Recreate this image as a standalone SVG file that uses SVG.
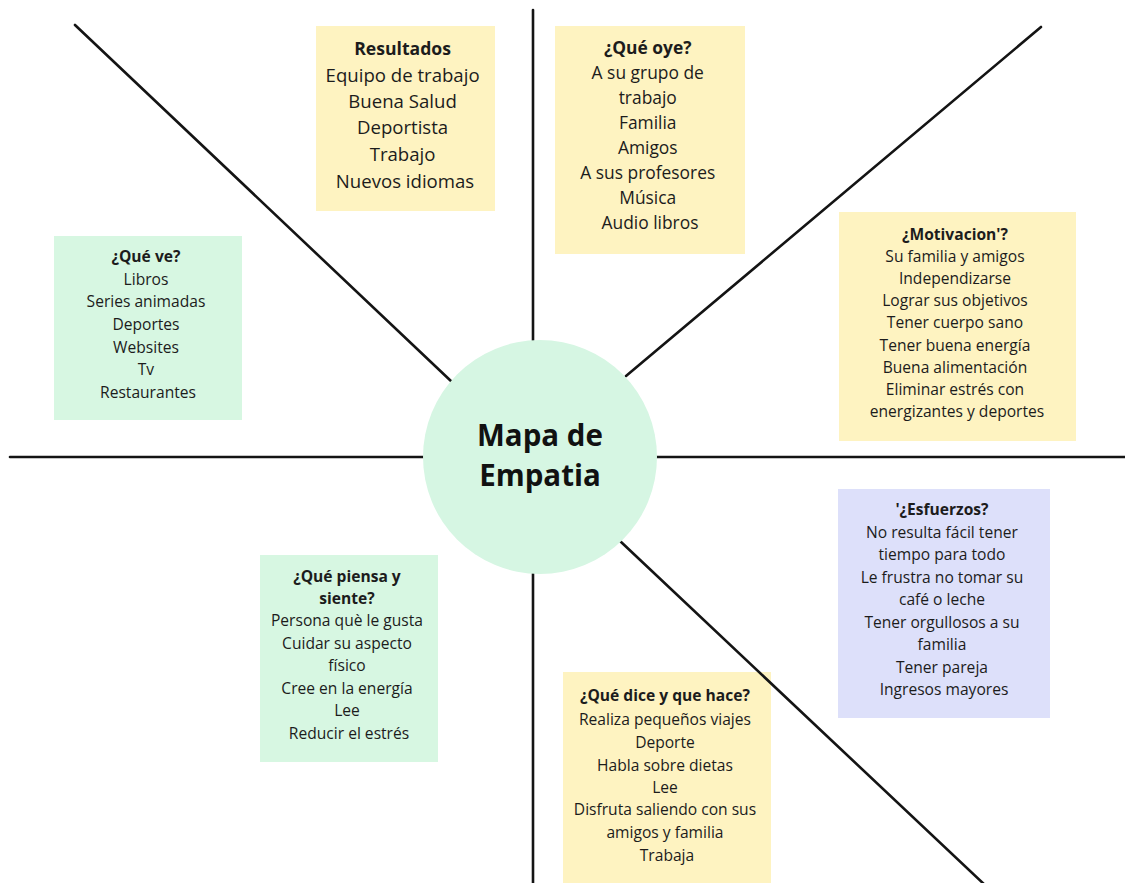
<svg xmlns="http://www.w3.org/2000/svg" width="1125" height="883" viewBox="0 0 1125 883">
  <style>
    .bg { fill: #ffffff; }
    .yellow { fill: #fef3c1; }
    .green { fill: #d7f7e2; }
    .lilac { fill: #dde0fa; }
    .hub { fill: #d6f6e3; }
    .axis { stroke: #141414; stroke-width: 2.6; stroke-linecap: round; fill: none; }
    text { font-family: "Open Sans", "Liberation Sans", sans-serif; fill: #1c1c1c; text-anchor: middle; }
    .t { font-weight: 700; }
    .big { font-size: 18.6px; }
    .mid { font-size: 17.4px; }
    .sm { font-size: 15.6px; }
    .hubtxt { font-size: 29.5px; font-weight: 700; fill: #111111; }
  </style>

  <rect class="bg" x="0" y="0" width="1125" height="883"/>

  <!-- Resultados -->
  <g id="resultados">
    <rect class="yellow" x="316" y="26" width="179" height="185"/>
    <text class="big" x="405">
      <tspan class="t" x="405" y="55" font-size="17.6">Resultados</tspan>
      <tspan x="405" y="82">Equipo de trabajo</tspan>
      <tspan x="405" y="108">Buena Salud</tspan>
      <tspan x="405" y="134">Deportista</tspan>
      <tspan x="405" y="161">Trabajo</tspan>
      <tspan x="405" y="188">Nuevos idiomas</tspan>
    </text>
  </g>

  <!-- ¿Qué oye? -->
  <g id="que-oye">
    <rect class="yellow" x="555" y="26" width="190" height="228"/>
    <text class="mid" x="650">
      <tspan class="t" x="650" y="54">¿Qué oye?</tspan>
      <tspan x="650" y="79">A su grupo de</tspan>
      <tspan x="650" y="104">trabajo</tspan>
      <tspan x="650" y="129">Familia</tspan>
      <tspan x="650" y="154">Amigos</tspan>
      <tspan x="650" y="179">A sus profesores</tspan>
      <tspan x="650" y="204">Música</tspan>
      <tspan x="650" y="229">Audio libros</tspan>
    </text>
  </g>

  <!-- ¿Motivacion? -->
  <g id="motivacion">
    <rect class="yellow" x="839" y="212" width="237" height="229"/>
    <text class="sm" x="957">
      <tspan class="t" x="957" y="240">¿Motivacion'?</tspan>
      <tspan x="957" y="262">Su familia y amigos</tspan>
      <tspan x="957" y="284">Independizarse</tspan>
      <tspan x="957" y="306">Lograr sus objetivos</tspan>
      <tspan x="957" y="328">Tener cuerpo sano</tspan>
      <tspan x="957" y="351">Tener buena energía</tspan>
      <tspan x="957" y="373">Buena alimentación</tspan>
      <tspan x="957" y="395">Eliminar estrés con</tspan>
      <tspan x="957" y="417">energizantes y deportes</tspan>
    </text>
  </g>

  <!-- ¿Qué ve? -->
  <g id="que-ve">
    <rect class="green" x="54" y="236" width="188" height="184"/>
    <text class="sm" x="148">
      <tspan class="t" x="148" y="262">¿Qué ve?</tspan>
      <tspan x="148" y="285">Libros</tspan>
      <tspan x="148" y="307">Series animadas</tspan>
      <tspan x="148" y="330">Deportes</tspan>
      <tspan x="148" y="353">Websites</tspan>
      <tspan x="148" y="375">Tv</tspan>
      <tspan x="148" y="398">Restaurantes</tspan>
    </text>
  </g>

  <!-- ¿Esfuerzos? -->
  <g id="esfuerzos">
    <rect class="lilac" x="838" y="489" width="212" height="229"/>
    <text class="sm" x="944">
      <tspan class="t" x="944" y="515">'¿Esfuerzos?</tspan>
      <tspan x="944" y="538">No resulta fácil tener</tspan>
      <tspan x="944" y="560">tiempo para todo</tspan>
      <tspan x="944" y="583">Le frustra no tomar su</tspan>
      <tspan x="944" y="605">café o leche</tspan>
      <tspan x="944" y="628">Tener orgullosos a su</tspan>
      <tspan x="944" y="650">familia</tspan>
      <tspan x="944" y="673">Tener pareja</tspan>
      <tspan x="944" y="695">Ingresos mayores</tspan>
    </text>
  </g>

  <!-- ¿Qué piensa y siente? -->
  <g id="que-piensa">
    <rect class="green" x="260" y="555" width="178" height="207"/>
    <text class="sm" x="349">
      <tspan class="t" x="349" y="582">¿Qué piensa y</tspan>
      <tspan class="t" x="349" y="604">siente?</tspan>
      <tspan x="349" y="626">Persona què le gusta</tspan>
      <tspan x="349" y="649">Cuidar su aspecto</tspan>
      <tspan x="349" y="671">físico</tspan>
      <tspan x="349" y="694">Cree en la energía</tspan>
      <tspan x="349" y="716">Lee</tspan>
      <tspan x="349" y="739">Reducir el estrés</tspan>
    </text>
  </g>

  <!-- ¿Qué dice y que hace? -->
  <g id="que-dice">
    <rect class="yellow" x="563" y="672" width="208" height="211"/>
    <text class="sm" x="667">
      <tspan class="t" x="667" y="701">¿Qué dice y que hace?</tspan>
      <tspan x="667" y="725">Realiza pequeños viajes</tspan>
      <tspan x="667" y="748">Deporte</tspan>
      <tspan x="667" y="771">Habla sobre dietas</tspan>
      <tspan x="667" y="793">Lee</tspan>
      <tspan x="667" y="815">Disfruta saliendo con sus</tspan>
      <tspan x="667" y="838">amigos y familia</tspan>
      <tspan x="667" y="861">Trabaja</tspan>
    </text>
  </g>

  <!-- dividing axes radiating from the hub -->
  <g id="connectors">
    <line class="axis" x1="533" y1="10" x2="533" y2="345"/>
    <line class="axis" x1="533" y1="570" x2="533" y2="885"/>
    <line class="axis" x1="10" y1="457" x2="428" y2="457"/>
    <line class="axis" x1="652" y1="457" x2="1127" y2="457"/>
    <line class="axis" x1="75" y1="25" x2="452" y2="382"/>
    <line class="axis" x1="1041" y1="27" x2="626" y2="376"/>
    <line class="axis" x1="620" y1="541" x2="986" y2="886"/>
  </g>

  <!-- central hub -->
  <g id="hub">
    <circle class="hub" cx="540" cy="457" r="117"/>
    <text class="hubtxt" x="540" y="446">Mapa de</text>
    <text class="hubtxt" x="540" y="486">Empatia</text>
  </g>
</svg>
